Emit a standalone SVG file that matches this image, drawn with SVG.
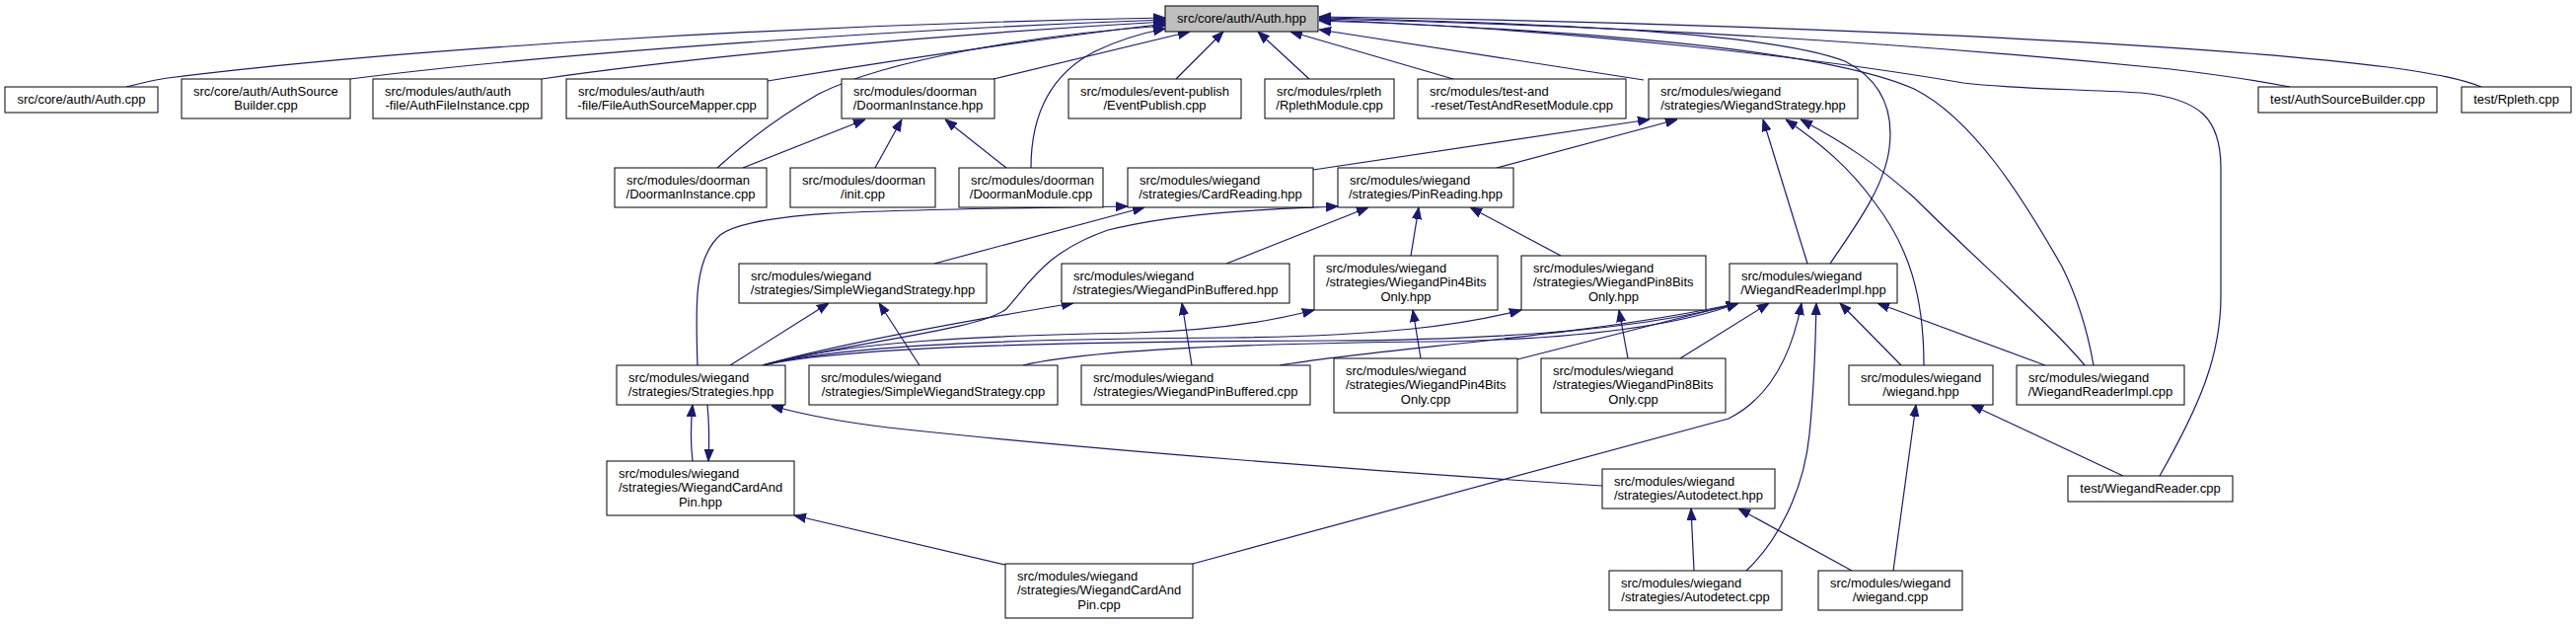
<svg xmlns="http://www.w3.org/2000/svg" width="2611" height="632" viewBox="0 0 2611 632">
<style>
rect{fill:#fff;stroke:#000;stroke-width:1}
#n0 rect{fill:#bfbfbf}
text{font-family:"Liberation Sans",Arial,Helvetica,sans-serif;font-size:13px;fill:#000}
.c{text-anchor:middle}
#edges path{fill:none;stroke:#191970;stroke-width:1.2;marker-end:url(#ah)}
</style>
<defs>
<marker id="ah" viewBox="0 0 12 10" refX="12" refY="5" markerWidth="12" markerHeight="10" orient="auto" markerUnits="userSpaceOnUse"><path d="M0,0.5 L12,5 L0,9.5 z" fill="#191970" stroke="#191970" stroke-width="1"/></marker>
</defs>
<rect x="0" y="0" width="2611" height="632" style="fill:#fff;stroke:none"/>
<g id="edges">
<path d="M128,88 C145,84 155,81 170,79 C400,50 800,25 1181,18"/>
<path d="M355,80 C550,55 900,30 1181,20"/>
<path d="M549,80 C700,58 950,35 1181,22"/>
<path d="M778,82 C900,62 1050,40 1181,24"/>
<path d="M727,170 C760,140 795,115 830,95 C900,60 1050,35 1181,26"/>
<path d="M1045,170 C1045,115 1065,75 1110,52 C1135,40 1160,33 1181,29"/>
<path d="M1007,80 L1206,32"/>
<path d="M1192,80 L1240,32"/>
<path d="M1327,80 L1275,32"/>
<path d="M1473,80 L1308,32"/>
<path d="M1666,81 L1337,30"/>
<path d="M2515,88 C2495,80 2470,75 2420,68 C2200,40 1700,22 1337,17"/>
<path d="M2321,88 C2290,82 2250,76 2200,70 C1900,40 1600,25 1337,19"/>
<path d="M2189,482 C2230,410 2251,360 2251,300 L2251,170 C2251,120 2230,100 2170,94 C2100,90 2040,90 1990,84 C1850,60 1600,30 1337,20"/>
<path d="M2122,370 C2115,330 2105,300 2090,270 C2050,200 2000,120 1940,90 C1850,50 1600,30 1337,21"/>
<path d="M1855,267 C1880,230 1910,190 1915,150 C1920,110 1905,80 1870,62 C1800,35 1600,24 1337,18"/>
<path d="M1331,172 L1672,121"/>
<path d="M1517,170 L1700,121"/>
<path d="M1832,267 L1787,121"/>
<path d="M1950,370 C1950,300 1935,250 1900,205 C1875,170 1845,145 1810,121"/>
<path d="M2113,370 C2080,330 2000,260 1940,200 C1900,165 1870,145 1825,121"/>
<path d="M753,170 L877,121"/>
<path d="M887,170 L914,121"/>
<path d="M1020,170 L958,121"/>
<path d="M707,370 C705,310 703,262 730,238 C765,212 900,213 1143,209"/>
<path d="M947,267 L1160,210"/>
<path d="M773,370 C870,345 990,335 1020,313 C1045,285 1060,255 1123,233 C1200,214 1290,212 1356,209"/>
<path d="M1243,267 L1387,210"/>
<path d="M1430,259 L1438,210"/>
<path d="M1582,259 L1490,210"/>
<path d="M740,370 L840,307"/>
<path d="M932,370 L891,307"/>
<path d="M773,370 C850,348 980,325 1088,307"/>
<path d="M1208,370 L1198,307"/>
<path d="M773,370 C860,345 1000,340 1150,337 C1230,335 1290,325 1332,314"/>
<path d="M1440,363 L1432,314"/>
<path d="M773,370 C860,348 1050,343 1250,342 C1400,340 1480,330 1542,314"/>
<path d="M1650,363 L1641,314"/>
<path d="M773,370 C860,350 1100,346 1350,345 C1550,344 1680,330 1762,307"/>
<path d="M1037,370 C1100,355 1250,348 1450,346 C1600,344 1700,330 1762,307"/>
<path d="M1297,370 C1400,352 1600,342 1762,307"/>
<path d="M1538,364 L1762,307"/>
<path d="M1703,363 L1793,307"/>
<path d="M1209,571 L1752,424 C1790,405 1815,365 1826,307"/>
<path d="M1770,578 C1800,550 1828,500 1834,440 C1840,380 1840,345 1841,307"/>
<path d="M1927,370 L1865,307"/>
<path d="M2073,370 L1903,307"/>
<path d="M1624,492 C1400,478 1100,455 900,433 C850,427 815,420 782,411"/>
<path d="M702,467 C700,450 700,430 702,410"/>
<path d="M717,410 C719,430 719,448 718,467"/>
<path d="M1019,572 L805,522"/>
<path d="M1717,578 L1714,515"/>
<path d="M1877,578 L1762,515"/>
<path d="M1919,578 L1942,410"/>
<path d="M2152,482 L1998,410"/>
</g>
<g id="n0"><rect x="1181" y="6" width="155" height="26"/><text class="c" x="1258.5" y="23">src/core/auth/Auth.hpp</text></g>
<g id="n1"><rect x="5" y="88" width="155" height="26"/><text class="c" x="82.5" y="105">src/core/auth/Auth.cpp</text></g>
<g id="n2"><rect x="184" y="80" width="171" height="40"/><text x="196" y="96.5">src/core/auth/AuthSource</text><text class="c" x="269.5" y="111">Builder.cpp</text></g>
<g id="n3"><rect x="378" y="80" width="171" height="40"/><text x="390" y="96.5">src/modules/auth/auth</text><text class="c" x="463.5" y="111">-file/AuthFileInstance.cpp</text></g>
<g id="n4"><rect x="574" y="80" width="204" height="40"/><text x="586" y="96.5">src/modules/auth/auth</text><text class="c" x="676" y="111">-file/FileAuthSourceMapper.cpp</text></g>
<g id="n5"><rect x="853" y="80" width="155" height="40"/><text x="865" y="96.5">src/modules/doorman</text><text class="c" x="930.5" y="111">/DoormanInstance.hpp</text></g>
<g id="n6"><rect x="1083" y="80" width="175" height="40"/><text x="1095" y="96.5">src/modules/event-publish</text><text class="c" x="1170.5" y="111">/EventPublish.cpp</text></g>
<g id="n7"><rect x="1282" y="80" width="131" height="40"/><text x="1294" y="96.5">src/modules/rpleth</text><text class="c" x="1347.5" y="111">/RplethModule.cpp</text></g>
<g id="n8"><rect x="1437" y="80" width="211" height="40"/><text x="1449" y="96.5">src/modules/test-and</text><text class="c" x="1542.5" y="111">-reset/TestAndResetModule.cpp</text></g>
<g id="n9"><rect x="1671" y="80" width="212" height="40"/><text x="1683" y="96.5">src/modules/wiegand</text><text class="c" x="1777" y="111">/strategies/WiegandStrategy.hpp</text></g>
<g id="n10"><rect x="2289" y="88" width="181" height="26"/><text class="c" x="2379.5" y="105">test/AuthSourceBuilder.cpp</text></g>
<g id="n11"><rect x="2495" y="88" width="111" height="26"/><text class="c" x="2550.5" y="105">test/Rpleth.cpp</text></g>
<g id="n12"><rect x="623" y="170" width="154" height="40"/><text x="635" y="186.5">src/modules/doorman</text><text class="c" x="700" y="201">/DoormanInstance.cpp</text></g>
<g id="n13"><rect x="801" y="170" width="147" height="40"/><text x="813" y="186.5">src/modules/doorman</text><text class="c" x="874.5" y="201">/init.cpp</text></g>
<g id="n14"><rect x="972" y="170" width="146" height="40"/><text x="984" y="186.5">src/modules/doorman</text><text class="c" x="1045" y="201">/DoormanModule.cpp</text></g>
<g id="n15"><rect x="1143" y="170" width="188" height="40"/><text x="1155" y="186.5">src/modules/wiegand</text><text class="c" x="1237" y="201">/strategies/CardReading.hpp</text></g>
<g id="n16"><rect x="1356" y="170" width="178" height="40"/><text x="1368" y="186.5">src/modules/wiegand</text><text class="c" x="1445" y="201">/strategies/PinReading.hpp</text></g>
<g id="n17"><rect x="749" y="267" width="251" height="40"/><text x="761" y="283.5">src/modules/wiegand</text><text class="c" x="874.5" y="298">/strategies/SimpleWiegandStrategy.hpp</text></g>
<g id="n18"><rect x="1076" y="267" width="231" height="40"/><text x="1088" y="283.5">src/modules/wiegand</text><text class="c" x="1191.5" y="298">/strategies/WiegandPinBuffered.hpp</text></g>
<g id="n19"><rect x="1332" y="259" width="186" height="55"/><text x="1344" y="275.5">src/modules/wiegand</text><text x="1344" y="290">/strategies/WiegandPin4Bits</text><text class="c" x="1425" y="304.5">Only.hpp</text></g>
<g id="n20"><rect x="1542" y="259" width="187" height="55"/><text x="1554" y="275.5">src/modules/wiegand</text><text x="1554" y="290">/strategies/WiegandPin8Bits</text><text class="c" x="1635.5" y="304.5">Only.hpp</text></g>
<g id="n21"><rect x="1753" y="267" width="170" height="40"/><text x="1765" y="283.5">src/modules/wiegand</text><text class="c" x="1838" y="298">/WiegandReaderImpl.hpp</text></g>
<g id="n22"><rect x="625" y="370" width="171" height="40"/><text x="637" y="386.5">src/modules/wiegand</text><text class="c" x="710.5" y="401">/strategies/Strategies.hpp</text></g>
<g id="n23"><rect x="820" y="370" width="252" height="40"/><text x="832" y="386.5">src/modules/wiegand</text><text class="c" x="946" y="401">/strategies/SimpleWiegandStrategy.cpp</text></g>
<g id="n24"><rect x="1096" y="370" width="232" height="40"/><text x="1108" y="386.5">src/modules/wiegand</text><text class="c" x="1212" y="401">/strategies/WiegandPinBuffered.cpp</text></g>
<g id="n25"><rect x="1352" y="363" width="186" height="55"/><text x="1364" y="379.5">src/modules/wiegand</text><text x="1364" y="394">/strategies/WiegandPin4Bits</text><text class="c" x="1445" y="408.5">Only.cpp</text></g>
<g id="n26"><rect x="1562" y="363" width="187" height="55"/><text x="1574" y="379.5">src/modules/wiegand</text><text x="1574" y="394">/strategies/WiegandPin8Bits</text><text class="c" x="1655.5" y="408.5">Only.cpp</text></g>
<g id="n27"><rect x="1874" y="370" width="146" height="40"/><text x="1886" y="386.5">src/modules/wiegand</text><text class="c" x="1947" y="401">/wiegand.hpp</text></g>
<g id="n28"><rect x="2044" y="370" width="170" height="40"/><text x="2056" y="386.5">src/modules/wiegand</text><text class="c" x="2129" y="401">/WiegandReaderImpl.cpp</text></g>
<g id="n29"><rect x="615" y="467" width="190" height="55"/><text x="627" y="483.5">src/modules/wiegand</text><text x="627" y="498">/strategies/WiegandCardAnd</text><text class="c" x="710" y="512.5">Pin.hpp</text></g>
<g id="n30"><rect x="1624" y="475" width="175" height="40"/><text x="1636" y="491.5">src/modules/wiegand</text><text class="c" x="1711.5" y="506">/strategies/Autodetect.hpp</text></g>
<g id="n31"><rect x="2096" y="482" width="167" height="26"/><text class="c" x="2179.5" y="499">test/WiegandReader.cpp</text></g>
<g id="n32"><rect x="1019" y="571" width="190" height="55"/><text x="1031" y="587.5">src/modules/wiegand</text><text x="1031" y="602">/strategies/WiegandCardAnd</text><text class="c" x="1114" y="616.5">Pin.cpp</text></g>
<g id="n33"><rect x="1631" y="578" width="175" height="40"/><text x="1643" y="594.5">src/modules/wiegand</text><text class="c" x="1718.5" y="609">/strategies/Autodetect.cpp</text></g>
<g id="n34"><rect x="1843" y="578" width="146" height="40"/><text x="1855" y="594.5">src/modules/wiegand</text><text class="c" x="1916" y="609">/wiegand.cpp</text></g>
</svg>
